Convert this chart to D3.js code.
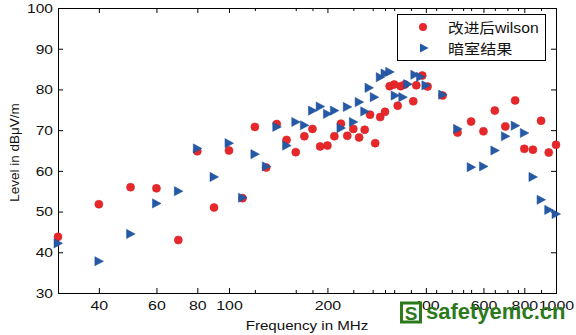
<!DOCTYPE html>
<html>
<head>
<meta charset="utf-8">
<script src="https://cdn.jsdelivr.net/npm/d3@7/dist/d3.min.js"></script>
<style>
  html, body { margin: 0; padding: 0; background: #fff; }
  svg { display: block; }
  text { font-family: "Liberation Sans", Arial, "Noto Sans CJK SC", sans-serif; fill: #111; }
</style>
</head>
<body>
<svg id="chart" width="576" height="335"></svg>
<script>
// Improved Wilson method (red circles)
const wilsonFreq  = [30, 40, 50, 60, 70, 80, 90, 100, 110, 120, 130, 140, 150, 160, 170, 180, 190, 200,
                     210, 220, 230, 240, 250, 260, 270, 280, 290, 300, 310, 320, 328, 335, 345, 366, 374, 390, 405,
                     450, 500, 550, 600, 650, 700, 750, 800, 850, 900, 950, 1000];
const wilsonLevel = [43.8, 51.8, 56.0, 55.7, 43.0, 64.8, 51.0, 65.0, 53.3, 70.8, 60.8, 71.5, 67.6, 64.6, 68.5, 70.3, 66.0, 66.2,
                     68.5, 71.6, 68.6, 70.3, 68.2, 70.1, 73.8, 66.8, 73.2, 74.5, 80.8, 81.2, 76.0, 80.8, 81.2, 77.1, 81.0, 83.4, 80.7,
                     78.5, 69.4, 72.1, 69.7, 74.8, 70.9, 77.3, 65.4, 65.2, 72.3, 64.5, 66.4];

// Anechoic chamber measurement (blue triangles)
const chamberFreq  = [30, 40, 50, 60, 70, 80, 90, 100, 110, 120, 130, 140, 150, 160, 170, 180, 190, 200,
                      210, 220, 230, 240, 250, 260, 268, 278, 290, 300, 310, 322, 340, 352, 370, 385, 400,
                      450, 500, 550, 600, 650, 700, 750, 800, 850, 900, 950, 1000];
const chamberLevel = [42.2, 37.8, 44.5, 52.0, 55.0, 65.5, 58.5, 66.8, 53.4, 64.1, 61.1, 70.8, 66.2, 72.0, 71.2, 74.8, 75.8, 74.0,
                      74.8, 70.5, 75.7, 72.0, 76.9, 74.6, 80.4, 78.1, 83.0, 83.9, 84.3, 78.5, 78.1, 81.3, 83.6, 83.1, 81.0,
                      78.7, 70.3, 60.9, 61.1, 65.0, 68.5, 71.1, 69.3, 58.5, 52.9, 50.4, 49.4];

const xTickValues = [40, 60, 80, 100, 200, 400, 600, 800, 1000];
const xMinorTicks = [120, 160, 180, 240, 275, 300, 320, 360, 430, 480, 520, 550, 650, 710, 765, 900];
const yTickValues = [30, 40, 50, 60, 70, 80, 90, 100];

const seriesNames = ["改进后wilson", "暗室结果"];
const xTitle = "Frequency in MHz";
const yTitle = "Level in dBμV/m";
const watermark = "safetyemc.cn";

const svg = d3.select("#chart");
const plot = { left: 58, right: 556, top: 8, bottom: 293 };

const x = d3.scaleLog().domain([30, 1000]).range([plot.left, plot.right]);
const y = d3.scaleLinear().domain([30, 100]).range([plot.bottom, plot.top]);

const red = "#e6282b";
const blue = "#2559a6";

// widen glyphs horizontally (text keeps its anchor)
function widen(sel, k) {
  sel.each(function () {
    const len = this.getComputedTextLength();
    this.setAttribute("textLength", (len * k).toFixed(1));
    this.setAttribute("lengthAdjust", "spacingAndGlyphs");
  });
}

// axes: ticks point inward on every side
const axisGroup = svg.append("g");
function drawAxis(axis, tx, ty) {
  const g = axisGroup.append("g").attr("transform", `translate(${tx},${ty})`).call(axis);
  g.select(".domain").remove();
  g.selectAll("line").attr("stroke", "#000").attr("stroke-width", 1);
  return g;
}

const fmt = d3.format("d");
const bottomAxis = drawAxis(d3.axisBottom(x).tickValues(xTickValues).tickFormat(fmt).tickSizeInner(-5).tickSizeOuter(0).tickPadding(7), 0, plot.bottom);
bottomAxis.selectAll("text").attr("font-size", 13.5).attr("fill", "#111").attr("font-family", "Liberation Sans, Arial, sans-serif");
widen(bottomAxis.selectAll("text"), 1.18);
drawAxis(d3.axisBottom(x).tickValues(xMinorTicks).tickFormat("").tickSizeInner(-3).tickSizeOuter(0), 0, plot.bottom);
drawAxis(d3.axisTop(x).tickValues(xTickValues).tickFormat("").tickSizeInner(-5).tickSizeOuter(0), 0, plot.top);
drawAxis(d3.axisTop(x).tickValues(xMinorTicks).tickFormat("").tickSizeInner(-3).tickSizeOuter(0), 0, plot.top);

const leftAxis = drawAxis(d3.axisLeft(y).tickValues(yTickValues).tickFormat(fmt).tickSizeInner(-5).tickSizeOuter(0).tickPadding(5), plot.left, 0);
leftAxis.selectAll("text").attr("font-size", 13.5).attr("fill", "#111").attr("font-family", "Liberation Sans, Arial, sans-serif");
widen(leftAxis.selectAll("text"), 1.15);
drawAxis(d3.axisRight(y).tickValues(yTickValues).tickFormat("").tickSizeInner(-5).tickSizeOuter(0), plot.right, 0);

// plot frame
svg.append("rect")
  .attr("x", plot.left + 0.5).attr("y", plot.top + 0.5)
  .attr("width", plot.right - plot.left).attr("height", plot.bottom - plot.top)
  .attr("fill", "none").attr("stroke", "#000").attr("stroke-width", 1);

// markers
const tri = "M-4,-4.6L4.6,0L-4,4.6Z";
const wilsonData = wilsonFreq.map((f, i) => ({ f, v: wilsonLevel[i] }));
const chamberData = chamberFreq.map((f, i) => ({ f, v: chamberLevel[i] }));

svg.append("g").selectAll("circle").data(wilsonData).join("circle")
  .attr("cx", d => x(d.f)).attr("cy", d => y(d.v)).attr("r", 4)
  .attr("fill", red).attr("stroke", "#d82126").attr("stroke-width", 0.6);

svg.append("g").selectAll("path").data(chamberData).join("path")
  .attr("d", tri)
  .attr("transform", d => `translate(${x(d.f)},${y(d.v)})`)
  .attr("fill", blue).attr("stroke", "#1f4f98").attr("stroke-width", 0.5);

// legend
const lg = svg.append("g");
lg.append("rect").attr("x", 397.5).attr("y", 14.5).attr("width", 148).attr("height", 46)
  .attr("fill", "#fff").attr("stroke", "#000").attr("stroke-width", 1);
lg.append("circle").attr("cx", 423).attr("cy", 27).attr("r", 4).attr("fill", red);
lg.append("path").attr("d", tri).attr("transform", "translate(424,48)").attr("fill", blue);
const lt1 = lg.append("text").attr("x", 448).attr("y", 32.5).attr("font-size", 14)
  .attr("font-family", "Liberation Sans, Noto Sans CJK SC, sans-serif").text(seriesNames[0]);
const lt2 = lg.append("text").attr("x", 448).attr("y", 54).attr("font-size", 14)
  .attr("font-family", "Noto Sans CJK SC, sans-serif").text(seriesNames[1]);
widen(lt1, 1.12);
widen(lt2, 1.15);

// axis titles
const xt = svg.append("text").attr("x", (plot.left + plot.right) / 2).attr("y", 330)
  .attr("text-anchor", "middle").attr("font-size", 13.5).text(xTitle);
widen(xt, 1.12);
svg.append("text").attr("transform", `translate(19,${(plot.top + plot.bottom) / 2 + 2}) rotate(-90)`)
  .attr("text-anchor", "middle").attr("font-size", 13.5).text(yTitle);

// site mark
const green = "#2c7a1c";
const wm = svg.append("g");
wm.append("rect").attr("x", 401.5).attr("y", 303).attr("width", 19).attr("height", 19)
  .attr("fill", "#fff").attr("stroke", green).attr("stroke-width", 3);
wm.append("text").attr("x", 411).attr("y", 319.5).attr("text-anchor", "middle")
  .attr("font-size", 19).attr("font-weight", "bold").style("fill", green).text("S");
wm.append("text").attr("x", 426).attr("y", 318.5)
  .attr("font-size", 22).attr("font-weight", "bold").style("fill", green).text(watermark);
</script>
</body>
</html>
